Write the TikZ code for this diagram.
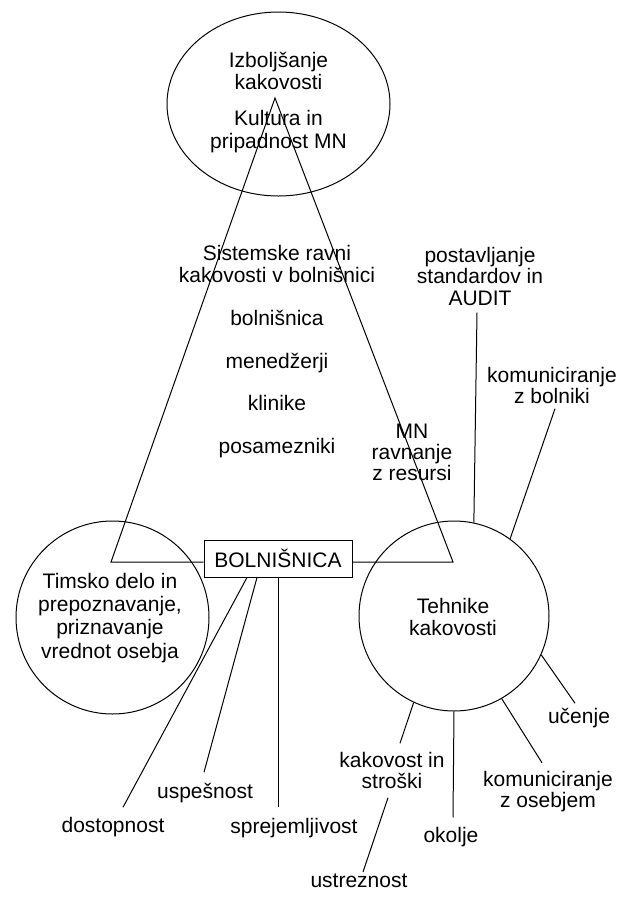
\documentclass[tikz,border=0pt]{standalone}
\usepackage{fontspec}
\setmainfont{Liberation Sans}
\usetikzlibrary{shapes.geometric}
\begin{document}
\begin{tikzpicture}[x=1pt,y=-1pt,line width=1pt,
  lbl/.style={font=\fontsize{21}{22}\selectfont, inner sep=0pt, align=center, anchor=base},
  shapebox/.style={draw, inner sep=0pt}]
\useasboundingbox (0,0) rectangle (624,898);

% main shapes
\node[shapebox, ellipse, minimum width=223pt, minimum height=184pt] (top) at (278.5,104) {};
\node[shapebox, circle, minimum size=193pt] (lc) at (112.5,617.5) {};
\node[shapebox, circle, minimum size=190pt] (rc) at (454,616) {};
\node[shapebox, minimum width=148pt, minimum height=37pt, font=\fontsize{21}{22}\selectfont] (box) at (278,558.5) {BOLNIŠNICA};

% triangle
\coordinate (apex) at (275,98);
\coordinate (tl) at (111,562);
\coordinate (tr) at (453,562);
\draw (box.west |- tl) -- (tl) -- (apex) -- (tr) -- (box.east |- tr);

% texts (multi-line nodes: base = last line)
\node[lbl] (ik) at (278.5,89) {Izboljšanje\\kakovosti};
\node[lbl, font=\fontsize{21}{23}\selectfont] (kul) at (278.5,148) {Kultura in\\pripadnost MN};
\node[lbl] (sis) at (277,282) {Sistemske ravni\\kakovosti v bolnišnici};
\node[lbl] (lv1) at (277,325) {bolnišnica};
\node[lbl] (lv2) at (277,368) {menedžerji};
\node[lbl] (lv3) at (277,410) {klinike};
\node[lbl] (lv4) at (277,453) {posamezniki};
\node[lbl, font=\fontsize{21}{21}\selectfont] (mn) at (412,480) {MN\\ravnanje\\z resursi};
\node[lbl, font=\fontsize{21}{23.3}\selectfont] (ltext) at (110,658) {Timsko delo in\\prepoznavanje,\\priznavanje\\vrednot osebja};
\node[lbl] (rtext) at (453,635) {Tehnike\\kakovosti};

% right circle labels
\node[lbl, font=\fontsize{21}{21.5}\selectfont] (audit) at (480,305) {postavljanje\\standardov in\\AUDIT};
\node[lbl, font=\fontsize{21}{20.5}\selectfont] (kzb) at (552,403) {komuniciranje\\z bolniki};
\node[lbl] (uc) at (579,723) {učenje};
\node[lbl, font=\fontsize{21}{20.5}\selectfont] (kzo) at (548,807) {komuniciranje\\z osebjem};
\node[lbl, font=\fontsize{21}{21}\selectfont] (ok) at (451,842) {okolje};
\node[lbl, font=\fontsize{21}{21}\selectfont] (kis) at (392,788) {kakovost in\\stroški};
\node[lbl] (us) at (359,887) {ustreznost};

% box labels
\node[lbl] (dos) at (113,832) {dostopnost};
\node[lbl] (usp) at (205,798) {uspešnost};
\node[lbl] (spr) at (294,833) {sprejemljivost};

% connectors of right circle
\draw ([xshift=-3pt,yshift=-7pt]audit.south) -- (rc.78.5);
\draw ([xshift=3pt,yshift=-5pt]kzb.south) -- (rc.54);
\draw (rc.-24.4) -- ([xshift=-4pt,yshift=4pt]uc.north);
\draw (rc.-60) -- ([xshift=-6pt,yshift=8pt]kzo.north);
\draw (rc.-90) -- ([xshift=2pt,yshift=9pt]ok.north);
\draw (rc.-115.5) -- ([xshift=8pt,yshift=8pt]kis.north);
\draw ([xshift=-4pt,yshift=-9pt]kis.south) -- ([xshift=4pt,yshift=1pt]us.north);

% connectors of box
\draw ([xshift=-31pt]box.south) -- ([xshift=10pt,yshift=9pt]dos.north);
\draw ([xshift=-21pt]box.south) -- ([xshift=-1pt,yshift=10pt]usp.north);
\draw (box.south) -- ([xshift=-16pt,yshift=10pt]spr.north);
\end{tikzpicture}
\end{document}
